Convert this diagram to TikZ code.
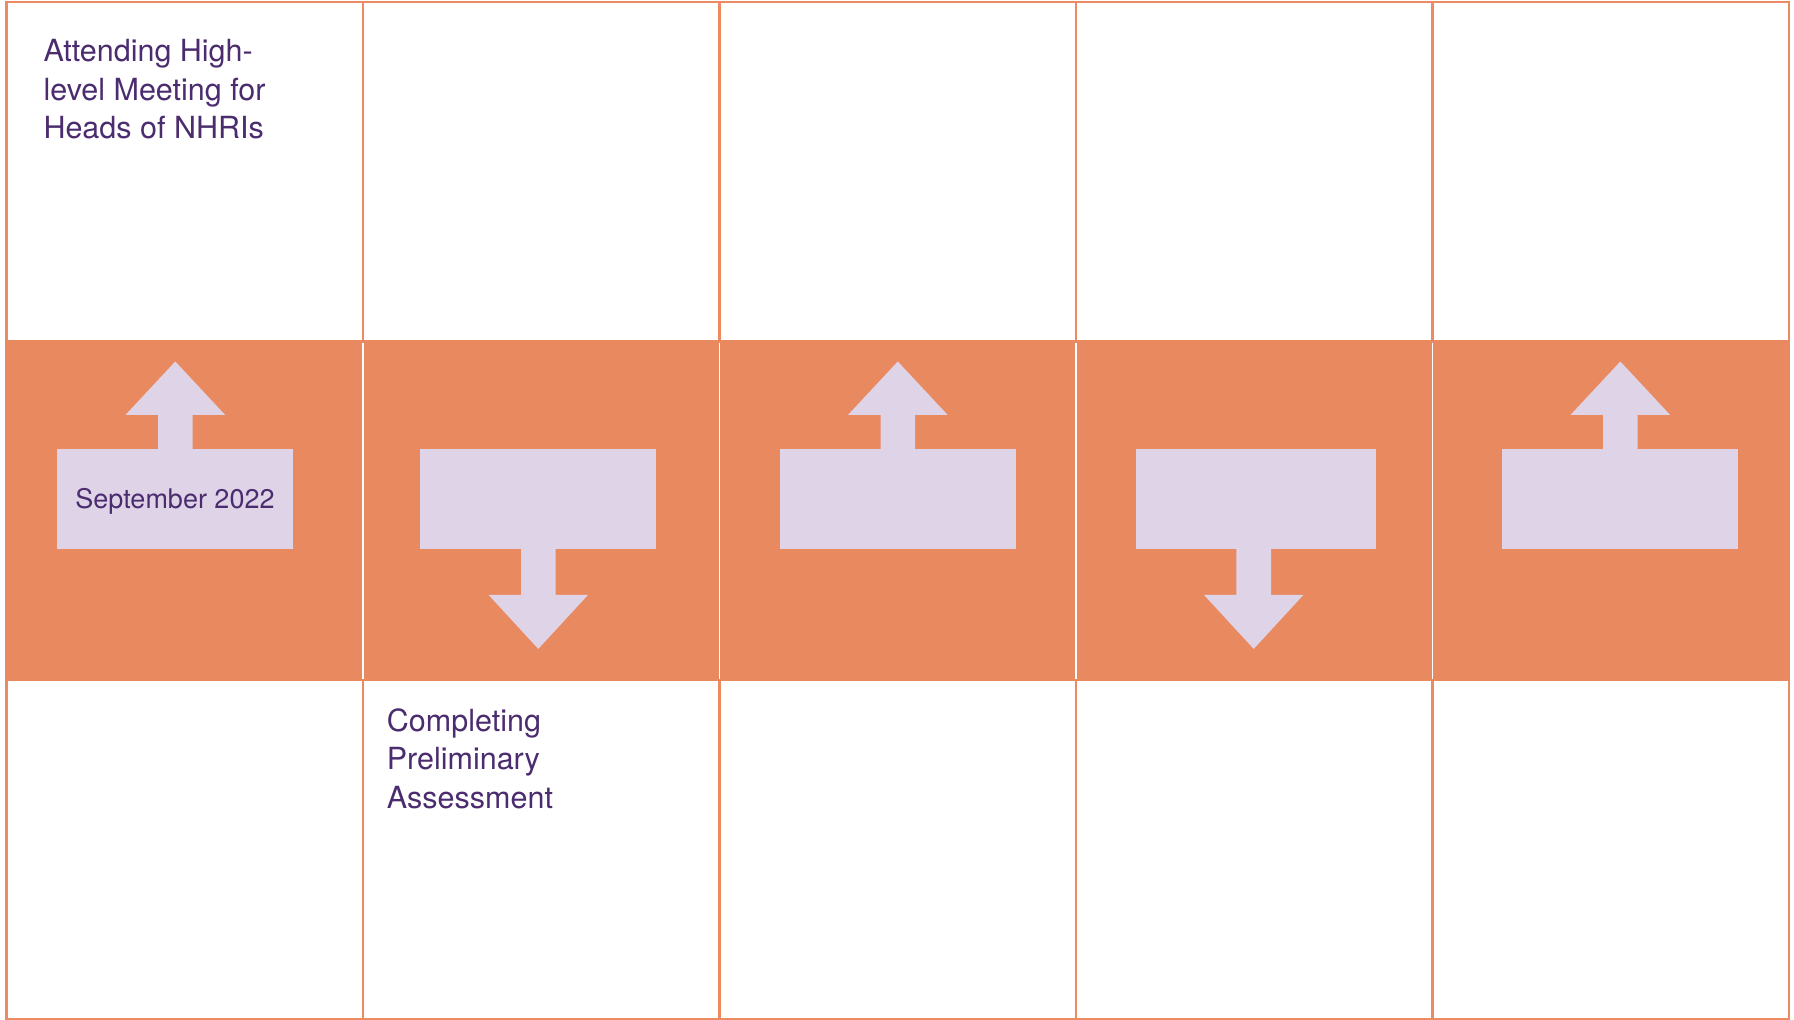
\documentclass[tikz,border=0pt]{standalone}
\usepackage{fontspec}
\setmainfont{TeX Gyre Heros}
\definecolor{bandorange}{HTML}{E98960}
\definecolor{gridorange}{HTML}{EC8B63}
\definecolor{lav}{HTML}{DFD3E7}
\definecolor{ink}{HTML}{4B2C6F}

% up / down pointing arrow attached to a box: #1 box name, #2 horizontal offset (pt)
\newcommand\callup[2]{%
  \fill[callarrow] ([xshift=#2pt,yshift=-1pt]#1.north) ++(-17.3,0) -- ++(0,-35)
    -- ++(-32.4,0) -- ++(49.7,-53.3) -- ++(49.7,53.3) -- ++(-32.4,0) -- ++(0,35) -- cycle;}
\newcommand\calldown[2]{%
  \fill[callarrow] ([xshift=#2pt,yshift=1pt]#1.south) ++(-17.3,0) -- ++(0,47)
    -- ++(-32.4,0) -- ++(49.7,54) -- ++(49.7,-54) -- ++(-32.4,0) -- ++(0,-47) -- cycle;}

\begin{document}
\begin{tikzpicture}[x=1pt,y=-1pt,
  gridline/.style={draw=gridorange, line width=2.2pt},
  band/.style={fill=bandorange},
  sepline/.style={draw=white, line width=1.8pt},
  callbox/.style={rectangle, fill=lav, draw=none, inner sep=0pt,
                  minimum width=236pt, minimum height=99.7pt},
  callarrow/.style={fill=lav},
  heading/.style={text=ink, font=\fontsize{30.5}{38.3}\selectfont, align=left, inner sep=0pt},
  datelbl/.style={text=ink, font=\fontsize{27}{32}\selectfont, inner sep=0pt}]
\useasboundingbox (0,0) rectangle (1794,1020);
\fill[white] (0,0) rectangle (1794,1020);

% table frame and column rules
\draw[gridline] (6.5,2) rectangle (1789,1019);
\foreach \x in {363,719.5,1076,1432.5}
  \draw[gridline] (\x,2) -- (\x,1019);

% middle band with white separators
\fill[band] (5.4,340) rectangle (1790,681);
\foreach \x in {363,719.5,1076,1432.5}
  \draw[sepline] (\x,342.5) -- (\x,679);

% callout boxes
\node[callbox] (box1) at (175,498.85) {};
\node[callbox] (box2) at (538,498.85) {};
\node[callbox] (box3) at (898,498.85) {};
\node[callbox, minimum width=240pt] (box4) at (1256,498.85) {};
\node[callbox] (box5) at (1620,498.85) {};

\callup{box1}{0.3}
\calldown{box2}{0.3}
\callup{box3}{-0.2}
\calldown{box4}{-2.3}
\callup{box5}{0.3}

% texts (multi-line nodes are placed by the baseline of their last line)
\node[datelbl, anchor=base] (date1) at ([yshift=-9.4pt]box1.center) {September 2022};
\node[heading, anchor=base west] (ev1) at (43.3,138.3)
  {Attending High-\\level Meeting for\\Heads of NHRIs};
\node[heading, anchor=base west] (ev2) at (386.7,808)
  {Completing\\Preliminary\\Assessment};
\end{tikzpicture}
\end{document}
